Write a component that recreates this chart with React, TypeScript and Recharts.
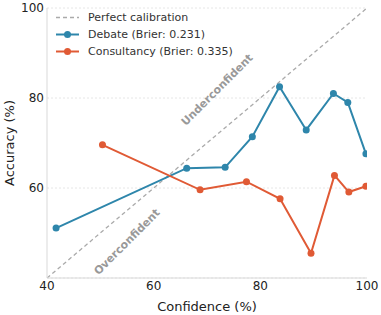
import { ComposedChart, Line, XAxis, YAxis, CartesianGrid, Legend, ReferenceDot } from 'recharts';

const FONT = '"DejaVu Sans", sans-serif';

const debateConfidence = [41.7, 66.2, 73.4, 78.5, 83.6, 88.6, 93.7, 96.4, 99.8];
const debateAccuracy = [51.1, 64.4, 64.6, 71.4, 82.5, 72.9, 81.0, 79.0, 67.6];

const consultancyConfidence = [50.4, 68.7, 77.4, 83.7, 89.5, 93.9, 96.6, 99.8];
const consultancyAccuracy = [69.6, 59.6, 61.4, 57.6, 45.5, 62.8, 59.1, 60.4];

const calibrationEnds = [40, 100];

const xTicks = [40, 60, 80, 100];
const yTicks = [60, 80, 100];

const seriesNames = ['Perfect calibration', 'Debate (Brier: 0.231)', 'Consultancy (Brier: 0.335)'];
const annotations = [
  { text: 'Underconfident', x: 71.9, y: 81.8 },
  { text: 'Overconfident', x: 55.0, y: 48.0 },
];

const debate = debateConfidence.map((x, i) => ({ x, y: debateAccuracy[i] }));
const consultancy = consultancyConfidence.map((x, i) => ({ x, y: consultancyAccuracy[i] }));
const calibration = calibrationEnds.map((v) => ({ x: v, y: v }));

function LegendBox({ payload }: any) {
  // keep the order the series were declared in
  const items = [...(payload || [])].sort(
    (a: any, b: any) => seriesNames.indexOf(a.value) - seriesNames.indexOf(b.value)
  );
  return (
    <div style={{ fontFamily: FONT, fontSize: 11, color: '#333' }}>
      {items.map((entry: any) => {
        const dashed = !!entry.payload?.strokeDasharray;
        return (
          <div key={entry.value} style={{ display: 'flex', alignItems: 'center', height: 17 }}>
            <svg width={26} height={17} style={{ marginRight: 7 }}>
              <line
                x1={1}
                x2={24}
                y1={8.5}
                y2={8.5}
                stroke={entry.color}
                strokeWidth={dashed ? 1.3 : 2}
                strokeDasharray={dashed ? '4 3' : undefined}
              />
              {!dashed && <circle cx={12.5} cy={8.5} r={3.5} fill={entry.color} />}
            </svg>
            <span style={{ whiteSpace: 'nowrap' }}>{entry.value}</span>
          </div>
        );
      })}
    </div>
  );
}

export default function App() {
  return (
    <div style={{ position: 'absolute', left: 0, top: 0 }}>
      <ComposedChart width={381} height={315} margin={{ top: 8, right: 14, bottom: 0, left: 0 }}>
        <CartesianGrid vertical={false} stroke="#e6e6e6" strokeDasharray="2 2" />
        <XAxis
          type="number"
          dataKey="x"
          domain={[40, 100]}
          ticks={xTicks}
          height={37}
          tickLine={false}
          tickSize={0}
          tickMargin={3}
          axisLine={{ stroke: '#d9d9d9' }}
          tick={{ fill: '#222', fontSize: 12, fontFamily: FONT }}
          allowDataOverflow
          label={{
            value: 'Confidence (%)',
            position: 'insideBottom',
            offset: 4,
            style: { fill: '#222', fontSize: 13, fontFamily: FONT },
          }}
        />
        <YAxis
          type="number"
          dataKey="y"
          domain={[40, 100]}
          ticks={yTicks}
          width={47}
          tickLine={false}
          tickSize={0}
          tickMargin={3}
          axisLine={{ stroke: '#d9d9d9' }}
          tick={{ fill: '#222', fontSize: 12, fontFamily: FONT }}
          allowDataOverflow
          label={{
            value: 'Accuracy (%)',
            angle: -90,
            position: 'insideLeft',
            offset: 9,
            style: { fill: '#222', fontSize: 13, fontFamily: FONT, textAnchor: 'middle' },
          }}
        />
        <Legend
          layout="vertical"
          align="center"
          verticalAlign="middle"
          wrapperStyle={{ left: 55, top: 9, width: 200 }}
          content={<LegendBox />}
        />
        <Line
          data={calibration}
          dataKey="y"
          name={seriesNames[0]}
          stroke="#aaaaaa"
          strokeWidth={1.3}
          strokeDasharray="4 3"
          dot={false}
          activeDot={false}
          isAnimationActive={false}
        />
        <Line
          data={debate}
          dataKey="y"
          name={seriesNames[1]}
          stroke="#2E86AB"
          strokeWidth={2}
          dot={{ r: 3.5, fill: '#2E86AB', stroke: '#2E86AB', strokeWidth: 0 }}
          isAnimationActive={false}
        />
        <Line
          data={consultancy}
          dataKey="y"
          name={seriesNames[2]}
          stroke="#E05A35"
          strokeWidth={2}
          dot={{ r: 3.5, fill: '#E05A35', stroke: '#E05A35', strokeWidth: 0 }}
          isAnimationActive={false}
        />
        {annotations.map((a) => (
          <ReferenceDot
            key={a.text}
            x={a.x}
            y={a.y}
            r={0}
            shape={(p: any) => (
              <text
                x={p.cx}
                y={p.cy}
                transform={`rotate(-45, ${p.cx}, ${p.cy})`}
                textAnchor="middle"
                dominantBaseline="central"
                fill="#999"
                fontSize={11}
                fontWeight="bold"
                fontFamily={FONT}
              >
                {a.text}
              </text>
            )}
          />
        ))}
      </ComposedChart>
    </div>
  );
}
